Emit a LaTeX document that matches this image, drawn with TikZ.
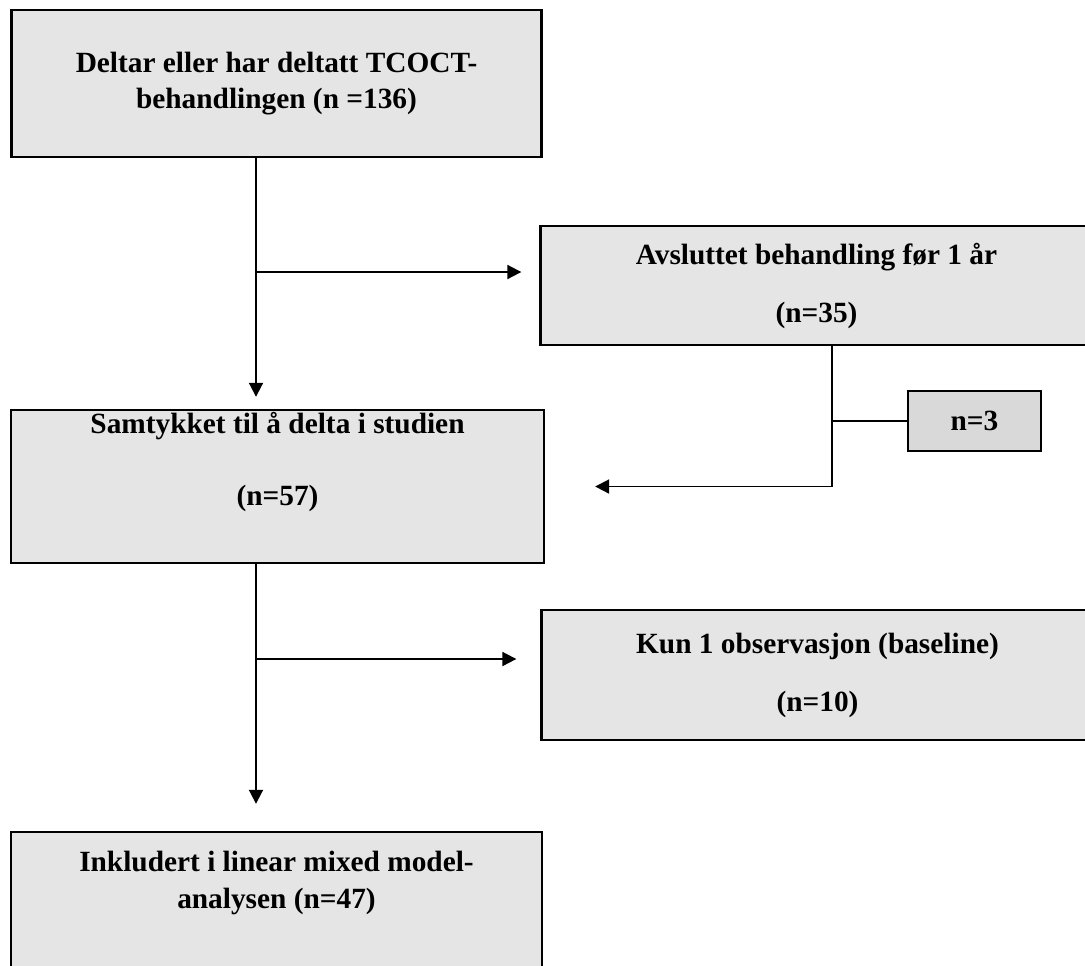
\documentclass[tikz,border=0pt]{standalone}
\usepackage{fontspec}
\setmainfont{Liberation Serif}
\usetikzlibrary{arrows.meta}
\definecolor{boxgray}{RGB}{229,229,229}
\definecolor{smallgray}{RGB}{217,217,217}
\tikzset{
  flowbox/.style={draw, fill=boxgray, line width=1.4pt, inner sep=0pt, align=center,
    font=\fontsize{16.7}{20}\selectfont\bfseries},
  flowline/.style={line width=1.1pt},
  flowarrow/.style={flowline, -{Triangle[width=0.28cm,length=0.28cm]}},
}

\begin{document}
\begin{tikzpicture}[x=0.02cm, y=-0.02cm]
      \useasboundingbox (0,0) rectangle (1085,965);
      \clip (0,0) rectangle (1085,965);
      % boxes
      \node[flowbox, minimum width=10.6cm, minimum height=2.94cm] (delt) at (276.5,83.5)
        {Deltar eller har deltatt TCOCT-\\behandlingen (n =136)};
      \node[flowbox, minimum width=11.04cm, minimum height=2.38cm] (avsl) at (816.5,285.5)
        {Avsluttet behandling før 1 år\\[13pt](n=35)};
      \node[flowbox, minimum width=10.66cm, minimum height=3.06cm] (samt) at (277.5,486.5)
        {Samtykket til å delta i studien\\[21pt](n=57)\\[12pt]\mbox{}};
      \node[flowbox, fill=smallgray, minimum width=2.66cm, minimum height=1.2cm] (n3) at (974.5,421)
        {n=3};
      \node[flowbox, minimum width=11.04cm, minimum height=2.6cm] (kun) at (817.5,675)
        {Kun 1 observasjon (baseline)\\[13pt](n=10)};
      \node[flowbox, minimum width=10.62cm, minimum height=2.86cm] (inkl) at (276.5,903.5)
        {Inkludert i linear mixed model-\\[1pt]analysen (n=47)\\[6.8pt]\mbox{}};
      % connectors
      \coordinate (stem) at (256,0);
      \coordinate (split1) at (256,272);
      \coordinate (split2) at (256,659);
      \coordinate (tap) at (832,421);
      \draw[flowarrow, shorten >=0.24cm] (delt.south -| stem) -- (samt.north -| stem);
      \draw[flowarrow, shorten >=0.36cm] (split1) -- (split1 -| avsl.west);
      \draw[flowarrow] (avsl.south -| tap) |- ([xshift=1cm]samt.east);
      \draw[flowline] (tap) -- (n3.west);
      \draw[flowarrow, shorten >=0.54cm] (samt.south -| stem) -- (inkl.north -| stem);
      \draw[flowarrow, shorten >=0.48cm] (split2) -- (split2 -| kun.west);
    \end{tikzpicture}
\end{document}
